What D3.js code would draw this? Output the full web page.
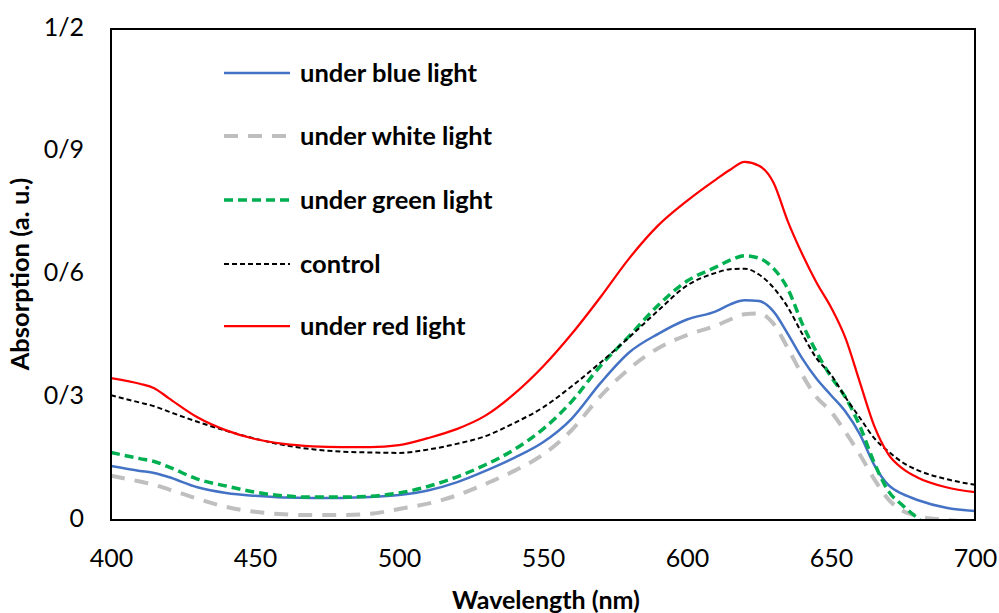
<!DOCTYPE html>
<html>
<head>
<meta charset="utf-8">
<script src="https://cdn.jsdelivr.net/npm/d3@7"></script>
<style>
  html, body { margin: 0; padding: 0; background: #fff; }
  svg { display: block; }
  text { font-family: Lato, "Open Sans", sans-serif; fill: #000; }
</style>
</head>
<body>
<svg id="chart" width="999" height="613"></svg>
<script>
// ---- Data ----
const wavelengths = [400,410,415,420,430,440,450,460,470,480,490,500,510,520,530,540,550,560,570,580,590,600,610,615,620,625,630,635,640,645,650,655,660,665,670,675,680,690,700];

const blueLight  = [0.132,0.120,0.115,0.105,0.080,0.066,0.059,0.055,0.054,0.054,0.056,0.061,0.072,0.092,0.120,0.152,0.190,0.248,0.335,0.410,0.455,0.490,0.510,0.527,0.537,0.535,0.510,0.455,0.395,0.345,0.305,0.265,0.210,0.135,0.085,0.063,0.049,0.030,0.022];
const whiteLight = [0.108,0.094,0.086,0.075,0.052,0.032,0.020,0.014,0.012,0.012,0.015,0.027,0.040,0.060,0.088,0.120,0.160,0.220,0.303,0.370,0.420,0.452,0.475,0.490,0.503,0.505,0.480,0.420,0.355,0.300,0.265,0.215,0.160,0.100,0.050,0.022,0.010,0.000,-0.005];
const greenLight = [0.165,0.150,0.143,0.130,0.100,0.083,0.068,0.059,0.056,0.056,0.058,0.066,0.082,0.105,0.135,0.172,0.222,0.290,0.377,0.450,0.525,0.584,0.618,0.635,0.646,0.640,0.615,0.565,0.480,0.410,0.350,0.300,0.230,0.140,0.070,0.035,0.005,-0.040,-0.070];
const control    = [0.305,0.287,0.278,0.265,0.240,0.218,0.199,0.183,0.173,0.167,0.165,0.164,0.172,0.186,0.205,0.237,0.275,0.327,0.385,0.447,0.512,0.573,0.604,0.613,0.614,0.600,0.568,0.520,0.455,0.395,0.355,0.300,0.250,0.200,0.167,0.140,0.122,0.100,0.086];
const redLight   = [0.347,0.333,0.322,0.298,0.251,0.219,0.198,0.186,0.180,0.178,0.178,0.183,0.200,0.222,0.255,0.308,0.375,0.455,0.545,0.640,0.720,0.780,0.832,0.856,0.875,0.866,0.825,0.730,0.650,0.580,0.520,0.445,0.337,0.230,0.160,0.125,0.104,0.080,0.068];

const seriesNames = ["under blue light","under white light","under green light","control","under red light"];
const seriesValues = [blueLight, whiteLight, greenLight, control, redLight];

const yTickValues = [0, 0.3, 0.6, 0.9, 1.2];
const yTickLabels = ["0", "0/3", "0/6", "0/9", "1/2"];
const xTickValues = [400, 450, 500, 550, 600, 650, 700];

// ---- Styles ----
const styles = [
  {color: "#4472C4", width: 2.5, dash: null},
  {color: "#BFBFBF", width: 4,   dash: "14,10"},
  {color: "#00B050", width: 3.5, dash: "9,5"},
  {color: "#000000", width: 2,   dash: "5,3"},
  {color: "#FF0000", width: 2.25, dash: null}
];

const svg = d3.select("#chart");
const plotL = 111, plotR = 975, plotT = 29, plotB = 520;

const x = d3.scaleLinear().domain([400, 700]).range([plotL, plotR]);
const y = d3.scaleLinear().domain([0, 1.2]).range([plotB, plotT]);

svg.append("defs").append("clipPath").attr("id", "plotclip")
  .append("rect").attr("x", plotL).attr("y", plotT)
  .attr("width", plotR - plotL).attr("height", plotB - plotT);

// Lines
const line = d3.line()
  .x((d, i) => x(wavelengths[i]))
  .y(d => y(d))
  .curve(d3.curveMonotoneX);

const g = svg.append("g").attr("clip-path", "url(#plotclip)");
seriesValues.forEach((vals, i) => {
  g.append("path")
    .attr("d", line(vals))
    .attr("fill", "none")
    .attr("stroke", styles[i].color)
    .attr("stroke-width", styles[i].width)
    .attr("stroke-dasharray", styles[i].dash)
    .attr("stroke-linejoin", "round");
});

// Frame
svg.append("rect")
  .attr("x", plotL).attr("y", plotT)
  .attr("width", plotR - plotL).attr("height", plotB - plotT)
  .attr("fill", "none").attr("stroke", "#000").attr("stroke-width", 2);

// Y axis
const yAxis = d3.axisLeft(y)
  .tickValues(yTickValues)
  .tickFormat((d, i) => yTickLabels[i])
  .tickSize(0).tickPadding(27);
const yg = svg.append("g").attr("transform", `translate(${plotL},0)`).call(yAxis);
yg.select(".domain").remove();
yg.selectAll("text")
  .style("font-family", "Lato, sans-serif")
  .style("font-size", "25px")
  .attr("fill", "#000")
  .attr("dy", "0.24em");

// X axis
const xAxis = d3.axisBottom(x)
  .tickValues(xTickValues)
  .tickFormat(d3.format("d"))
  .tickSize(0).tickPadding(29);
const xg = svg.append("g").attr("transform", `translate(0,${plotB})`).call(xAxis);
xg.select(".domain").remove();
xg.selectAll("text")
  .style("font-family", "Lato, sans-serif")
  .style("font-size", "25px")
  .attr("fill", "#000");

// Axis titles
svg.append("text")
  .attr("x", 546).attr("y", 609)
  .attr("text-anchor", "middle")
  .style("font-size", "25px").style("font-weight", "bold")
  .text("Wavelength (nm)");

svg.append("text")
  .attr("transform", "translate(29,274) rotate(-90)")
  .attr("text-anchor", "middle")
  .style("font-size", "25.5px").style("font-weight", "bold")
  .text("Absorption (a. u.)");

// Legend
const legendY = [73, 136, 200, 264, 326];
seriesNames.forEach((name, i) => {
  const lg = svg.append("g");
  lg.append("line")
    .attr("x1", 224).attr("x2", 290)
    .attr("y1", legendY[i]).attr("y2", legendY[i])
    .attr("stroke", styles[i].color)
    .attr("stroke-width", styles[i].width)
    .attr("stroke-dasharray", styles[i].dash);
  lg.append("text")
    .attr("x", 300).attr("y", legendY[i] + 9)
    .style("font-size", "25.5px").style("font-weight", "bold")
    .text(name);
});
</script>
</body>
</html>
